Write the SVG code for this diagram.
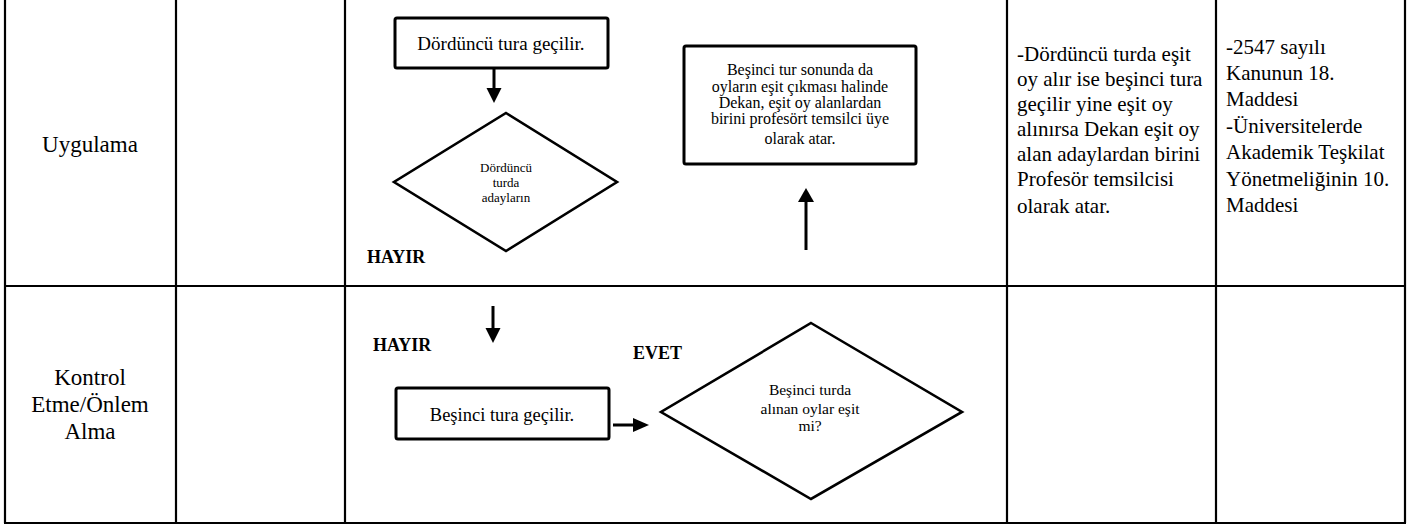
<svg xmlns="http://www.w3.org/2000/svg" width="1418" height="527" viewBox="0 0 1418 527">
<style>
.grid{stroke:#000;stroke-width:2.2;fill:none}
.box{fill:#fff;stroke:#000;stroke-width:3;}
.dia{fill:#fff;stroke:#000;stroke-width:2.6;stroke-linejoin:miter}
.t{font-family:"Liberation Serif","Times New Roman",serif;fill:#000}
.b{font-family:"Liberation Serif","Times New Roman",serif;font-weight:bold;fill:#000}
.shaft{stroke:#000;stroke-width:3;fill:none}
.head{fill:#000}
</style>
<rect x="0" y="0" width="1418" height="527" fill="#fff"/>
<g id="table" class="grid">
<line x1="5" y1="0" x2="5" y2="523"/>
<line x1="176" y1="0" x2="176" y2="523"/>
<line x1="345" y1="0" x2="345" y2="523"/>
<line x1="1007" y1="0" x2="1007" y2="523"/>
<line x1="1216" y1="0" x2="1216" y2="523"/>
<line x1="1405" y1="0" x2="1405" y2="523"/>
<line x1="4" y1="286" x2="1406" y2="286"/>
<line x1="4" y1="523" x2="1406" y2="523"/>
</g>
<g id="lane-uygulama">
<text class="t" x="90" y="152" font-size="23" text-anchor="middle">Uygulama</text>
</g>
<g id="lane-kontrol" class="t" font-size="23" text-anchor="middle">
<text x="90" y="385">Kontrol</text>
<text x="90" y="412">Etme/Önlem</text>
<text x="90" y="439">Alma</text>
</g>
<g id="note-aciklama" class="t" font-size="21">
<text x="1017" y="61">-Dördüncü turda eşit</text>
<text x="1017" y="86">oy alır ise beşinci tura</text>
<text x="1017" y="111">geçilir yine eşit oy</text>
<text x="1017" y="136">alınırsa Dekan eşit oy</text>
<text x="1017" y="161">alan adaylardan birini</text>
<text x="1017" y="186">Profesör temsilcisi</text>
<text x="1017" y="213">olarak atar.</text>
</g>
<g id="note-mevzuat" class="t" font-size="21">
<text x="1226" y="54">-2547 sayılı</text>
<text x="1226" y="80">Kanunun 18.</text>
<text x="1226" y="106">Maddesi</text>
<text x="1226" y="133">-Üniversitelerde</text>
<text x="1226" y="159">Akademik Teşkilat</text>
<text x="1226" y="186">Yönetmeliğinin 10.</text>
<text x="1226" y="212">Maddesi</text>
</g>
<g id="box-dorduncu">
<rect class="box" x="395" y="18" width="213" height="50" rx="2"/>
<text class="t" x="501" y="50" font-size="19" text-anchor="middle">Dördüncü tura geçilir.</text>
</g>
<g id="dia-dorduncu">
<polygon class="dia" points="506,113 617,182 506,251 394,182"/>
<g class="t" font-size="13" text-anchor="middle">
<text x="506" y="172">Dördüncü</text>
<text x="506" y="187">turda</text>
<text x="506" y="202">adayların</text>
</g>
</g>
<g id="box-besinci-sonu">
<rect class="box" x="684" y="46" width="232" height="118" rx="2"/>
<g class="t" font-size="16" text-anchor="middle">
<text x="800" y="75">Beşinci tur sonunda da</text>
<text x="800" y="92">oyların eşit çıkması halinde</text>
<text x="800" y="108">Dekan, eşit oy alanlardan</text>
<text x="800" y="124">birini profesört temsilci üye</text>
<text x="800" y="144">olarak atar.</text>
</g>
</g>
<g id="box-besinci">
<rect class="box" x="396" y="388" width="213" height="51" rx="2"/>
<text class="t" x="502" y="421" font-size="18.5" text-anchor="middle">Beşinci tura geçilir.</text>
</g>
<g id="dia-besinci">
<polygon class="dia" points="811,323 962,412 811,499 661,412"/>
<g class="t" font-size="15.5" text-anchor="middle">
<text x="810" y="395">Beşinci turda</text>
<text x="810" y="414">alınan oylar eşit</text>
<text x="810" y="431">mi?</text>
</g>
</g>
<g id="labels" font-size="18">
<text class="b" x="367" y="263">HAYIR</text>
<text class="b" x="373" y="351">HAYIR</text>
<text class="b" x="633" y="359">EVET</text>
</g>
<g id="connectors">
<line class="shaft" x1="494" y1="68" x2="494" y2="90"/>
<polygon class="head" points="486.5,88 501.5,88 494,103"/>
<line class="shaft" x1="806" y1="250" x2="806" y2="200"/>
<polygon class="head" points="798,202 814,202 806,188"/>
<line class="shaft" x1="493" y1="306" x2="493" y2="330"/>
<polygon class="head" points="485.5,328 500.5,328 493,343"/>
<line class="shaft" x1="613" y1="425" x2="635" y2="425"/>
<polygon class="head" points="633,418 633,432 649,425"/>
</g>
</svg>
